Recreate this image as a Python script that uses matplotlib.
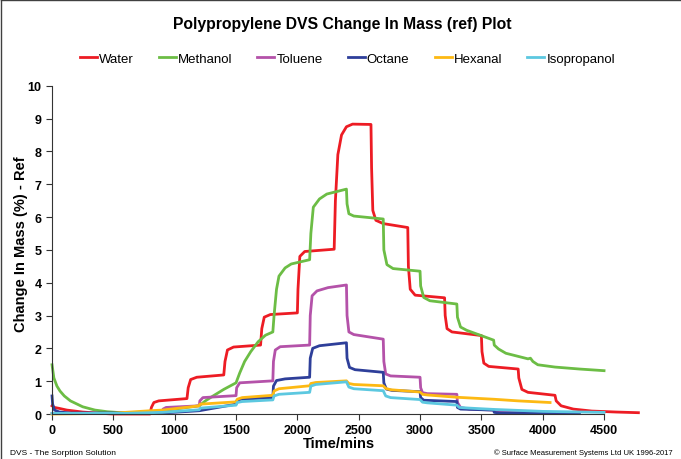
import matplotlib
matplotlib.use('Agg')
import matplotlib.pyplot as plt
from matplotlib.lines import Line2D

plt.rcParams['font.family'] = ['Liberation Sans', 'DejaVu Sans']

# Water
water_t = [0, 20, 60, 120, 250, 400, 500, 799, 810, 830, 870, 1100,
           1110, 1130, 1180, 1400, 1410, 1430, 1480, 1700, 1710, 1730, 1780, 2000,
           2005, 2020, 2060, 2300, 2310, 2330, 2360, 2400, 2450, 2600,
           2605, 2615, 2640, 2700, 2900, 2905, 2920, 2960, 3200,
           3205, 3220, 3260, 3500, 3505, 3520, 3560, 3800,
           3805, 3830, 3880, 4100, 4110, 4150, 4250, 4400, 4600, 4780]
water_v = [0.25, 0.2, 0.17, 0.12, 0.06, 0.02, 0.0, 0.0, 0.2, 0.35, 0.4, 0.47,
           0.8, 1.05, 1.12, 1.19, 1.6, 1.95, 2.04, 2.1, 2.6, 2.95, 3.03, 3.08,
           3.8, 4.8, 4.95, 5.02, 6.5, 7.9, 8.5, 8.75, 8.83, 8.82,
           7.5, 6.2, 5.9, 5.8, 5.68, 4.5, 3.8, 3.62, 3.54,
           3.0, 2.6, 2.5, 2.39, 1.9, 1.55, 1.45, 1.37,
           1.1, 0.75, 0.66, 0.57, 0.4, 0.25, 0.15, 0.09, 0.06, 0.04]

# Methanol
methanol_t = [0, 15, 40, 65, 100, 150, 250, 350, 450, 600, 800, 900, 1100, 1200,
              1250, 1300, 1400, 1500, 1530, 1570, 1620, 1680, 1740, 1800,
              1810, 1830, 1850, 1900, 1950, 2100, 2110, 2130, 2180, 2240, 2400,
              2405, 2420, 2460, 2700, 2705, 2730, 2780, 3000,
              3005, 3030, 3080, 3300, 3305, 3330, 3380, 3600,
              3605, 3640, 3700, 3880, 3900, 3920, 3960, 4100, 4300, 4500]
methanol_v = [1.5, 1.1, 0.85, 0.7, 0.55, 0.4, 0.22, 0.12, 0.07, 0.03, 0.05, 0.1, 0.2, 0.25,
              0.4, 0.52, 0.75, 0.95, 1.25, 1.6, 1.9, 2.2, 2.4, 2.5,
              3.0, 3.8, 4.2, 4.45, 4.57, 4.7, 5.5, 6.3, 6.55, 6.7, 6.85,
              6.4, 6.1, 6.03, 5.94, 5.0, 4.55, 4.43, 4.35,
              3.9, 3.55, 3.45, 3.35, 2.95, 2.65, 2.55, 2.25,
              2.1, 1.98, 1.85, 1.68, 1.7, 1.6, 1.5, 1.43, 1.37, 1.32]

# Toluene
toluene_t = [0, 800, 900, 905, 930, 1200, 1205, 1230, 1500, 1505, 1530, 1800,
             1805, 1820, 1860, 2100, 2105, 2120, 2160, 2250, 2400,
             2405, 2420, 2460, 2700, 2705, 2720, 2760, 3000,
             3005, 3020, 3060, 3300, 3305, 3330, 3400, 3600, 3610, 3700, 4100]
toluene_v = [0.02, 0.02, 0.05, 0.15, 0.2, 0.25, 0.4, 0.5, 0.56, 0.8, 0.95, 1.01,
             1.6, 1.95, 2.05, 2.1, 3.0, 3.6, 3.75, 3.85, 3.93,
             3.0, 2.5, 2.42, 2.28, 1.6, 1.22, 1.16, 1.12,
             0.8, 0.65, 0.62, 0.6, 0.35, 0.2, 0.15, 0.12, 0.07, 0.05, 0.03]

# Octane
octane_t = [0, 5, 20, 60, 150, 900, 1200, 1500, 1505, 1540, 1800,
            1805, 1830, 1900, 2100, 2105, 2125, 2180, 2400,
            2405, 2425, 2470, 2700, 2705, 2725, 2770, 3000,
            3005, 3030, 3300, 3305, 3330, 3600, 3605, 3650, 4300]
octane_v = [0.55, 0.3, 0.12, 0.06, 0.03, 0.03, 0.1, 0.3, 0.4, 0.45, 0.5,
            0.85, 1.02, 1.07, 1.12, 1.7, 2.0, 2.08, 2.17,
            1.7, 1.42, 1.35, 1.27, 0.95, 0.76, 0.72, 0.68,
            0.5, 0.42, 0.38, 0.2, 0.15, 0.12, 0.05, 0.03, 0.02]

# Hexanal
hexanal_t = [0, 500, 600, 800, 900, 1200, 1205, 1500, 1510, 1550, 1800,
             1810, 1850, 2100, 2110, 2150, 2400, 2420, 2460, 2700,
             2720, 2760, 3000, 3020, 3060, 3300, 3600, 3800, 4060]
hexanal_v = [0.0, 0.02, 0.05, 0.1, 0.12, 0.25, 0.3, 0.37, 0.45, 0.5, 0.57,
             0.7, 0.77, 0.86, 0.93, 0.96, 1.01, 0.93, 0.9, 0.86,
             0.78, 0.74, 0.67, 0.6, 0.58, 0.51, 0.45, 0.4, 0.35]

# Isopropanol
isopropanol_t = [0, 600, 900, 1200, 1210, 1500, 1510, 1550, 1800,
                 1810, 1850, 2100, 2110, 2150, 2400, 2420, 2460, 2700,
                 2720, 2760, 3000, 3020, 3060, 3300, 3320, 3400, 3600, 4000, 4500]
isopropanol_v = [0.02, 0.02, 0.05, 0.13, 0.18, 0.27, 0.35, 0.38, 0.43,
                 0.55, 0.6, 0.66, 0.85, 0.9, 0.98, 0.82, 0.77, 0.71,
                 0.55, 0.5, 0.44, 0.36, 0.34, 0.27, 0.2, 0.18, 0.14, 0.08, 0.05]

series = [
    ('Water', water_t, water_v, '#ED1C24'),
    ('Methanol', methanol_t, methanol_v, '#6CBD45'),
    ('Toluene', toluene_t, toluene_v, '#B452A9'),
    ('Octane', octane_t, octane_v, '#2E3F9A'),
    ('Hexanal', hexanal_t, hexanal_v, '#FDB913'),
    ('Isopropanol', isopropanol_t, isopropanol_v, '#5CC8E0'),
]

fig = plt.figure(figsize=(6.81, 4.60), dpi=100)
# Excel-style axis: stops at 4500, data runs past it
ax = fig.add_axes([0.0764, 0.0978, 0.8106, 0.7137])

for name, t, v, c in series:
    ax.plot(t, v, color=c, lw=2, label=name, clip_on=False)

ax.set_xlim(0, 4500)
ax.set_ylim(0, 10)
ax.set_xticks(range(0, 5000, 500))
ax.set_yticks(range(0, 11))
ax.spines['top'].set_visible(False)
ax.spines['right'].set_visible(False)
ax.spines['left'].set_color('#333333')
ax.spines['bottom'].set_color('#333333')
ax.tick_params(direction='out', length=4, width=0.8, labelsize=9, color='#333333')
for lab in ax.get_xticklabels() + ax.get_yticklabels():
    lab.set_fontweight('bold')

ax.set_xlabel('Time/mins', fontsize=10.5, fontweight='bold')
ax.set_ylabel('Change In Mass (%) - Ref', fontsize=10.5, fontweight='bold')
ax.xaxis.set_label_coords(0.52, -0.068)
ax.yaxis.set_label_coords(-0.043, 0.52)

fig.text(0.503, 0.946, 'Polypropylene DVS Change In Mass (ref) Plot', ha='center', va='center',
         fontsize=11.3, fontweight='bold')
fig.legend(loc='center', bbox_to_anchor=(0.51, 0.87), ncol=6, frameon=False,
           fontsize=9.5, handlelength=1.3, handletextpad=0.15, columnspacing=1.9)

fig.text(0.015, 0.006, 'DVS - The Sorption Solution', fontsize=6, ha='left', va='bottom')
fig.text(0.987, 0.006, '\u00a9 Surface Measurement Systems Ltd UK 1996-2017', fontsize=5.5,
         ha='right', va='bottom')

# chart frame (left and top edges visible in the crop)
fig.add_artist(Line2D([0.002, 0.002], [0.0, 0.997], transform=fig.transFigure, color='#404040', lw=1))
fig.add_artist(Line2D([0.002, 1.0], [0.997, 0.997], transform=fig.transFigure, color='#404040', lw=1))

fig.savefig('out.png', dpi=100)
